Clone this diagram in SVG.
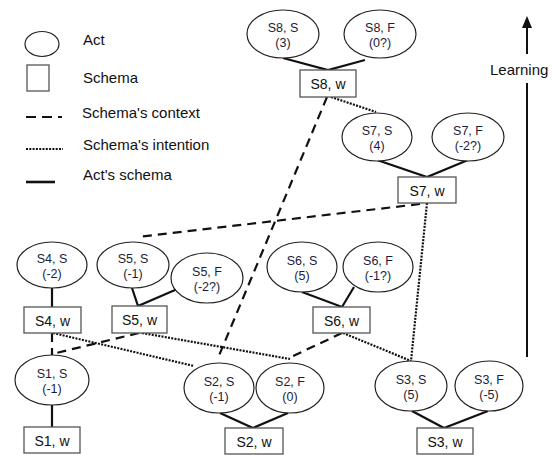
<svg xmlns="http://www.w3.org/2000/svg" width="554" height="455" viewBox="0 0 554 455">
<style>
.act{fill:#fff;stroke:#222;stroke-width:1.2}
.sch{fill:#fff;stroke:#555;stroke-width:1.3}
.al{font-family:"Liberation Sans",Arial,sans-serif;font-size:12.5px;fill:#1c1c3a;text-anchor:middle}
.sl{font-family:"Liberation Sans",Arial,sans-serif;font-size:14px;fill:#111;text-anchor:middle}
.lg{font-family:"Liberation Sans",Arial,sans-serif;font-size:15px;fill:#111}
.solid{stroke:#111;stroke-width:2.2;fill:none}
.ctx{stroke:#111;stroke-width:2.2;fill:none;stroke-dasharray:9 6}
.int{stroke:#111;stroke-width:2.2;fill:none;stroke-dasharray:2 1.3}
</style>
<rect width="554" height="455" fill="#fff"/>
<g id="legend">
<ellipse class="act" cx="42" cy="44" rx="17" ry="12.5"/>
<text class="lg" x="83" y="45">Act</text>
<rect class="sch" x="27" y="65" width="22" height="26"/>
<text class="lg" x="83" y="83">Schema</text>
<line class="ctx" x1="26" y1="117" x2="62" y2="117" style="stroke-dasharray:10 6"/>
<text class="lg" x="82" y="118">Schema's context</text>
<line class="int" x1="26" y1="149" x2="63" y2="149"/>
<text class="lg" x="83" y="150">Schema's intention</text>
<line class="solid" x1="26" y1="182" x2="55" y2="182" style="stroke-width:2.6"/>
<text class="lg" x="83" y="180">Act's schema</text>
</g>
<g id="learning">
<polygon points="527,16 522,28 532,28" fill="#111"/>
<line x1="527" y1="27" x2="527" y2="54" stroke="#111" stroke-width="2"/>
<text class="lg" x="490" y="75">Learning</text>
<line x1="527" y1="83" x2="527" y2="357" stroke="#111" stroke-width="2"/>
</g>
<g id="connectors">
<polyline class="solid" points="283,58 328,70 365,60"/>
<polyline class="solid" points="377,160 427,177 468,160"/>
<polyline class="solid" points="302,292 342,307 354,287"/>
<polyline class="solid" points="132,288 138,306 182,287"/>
<line class="solid" x1="52" y1="288" x2="52" y2="307"/>
<line class="solid" x1="52" y1="405" x2="52" y2="427"/>
<polyline class="solid" points="220,413 253,428 288,413"/>
<polyline class="solid" points="412,411 444,428 488,411"/>
<line class="ctx" x1="327" y1="97" x2="218" y2="358"/>
<line class="ctx" x1="420" y1="204" x2="138" y2="237"/>
<line class="ctx" x1="139" y1="333" x2="52" y2="354"/>
<line class="ctx" x1="52" y1="333" x2="52" y2="355"/>
<line class="ctx" x1="342" y1="333" x2="291" y2="357"/>
<line class="int" x1="331" y1="97" x2="376" y2="112"/>
<line class="int" x1="427" y1="203" x2="411" y2="361"/>
<line class="int" x1="53" y1="333" x2="194" y2="366"/>
<line class="int" x1="142" y1="333" x2="290" y2="359"/>
<line class="int" x1="343" y1="333" x2="411" y2="361"/>
</g>
<g id="S8S"><ellipse class="act" cx="283" cy="34" rx="36" ry="24"/><text class="al" x="283" y="32">S8, S</text><text class="al" x="283" y="47">(3)</text></g>
<g id="S8F"><ellipse class="act" cx="380" cy="34" rx="36" ry="24"/><text class="al" x="380" y="32">S8, F</text><text class="al" x="380" y="47">(0?)</text></g>
<g id="S8w"><rect class="sch" x="300" y="70" width="56" height="27"/><text class="sl" x="328" y="89">S8, w</text></g>
<g id="S7S"><ellipse class="act" cx="377" cy="137" rx="35" ry="24"/><text class="al" x="377" y="135">S7, S</text><text class="al" x="377" y="150">(4)</text></g>
<g id="S7F"><ellipse class="act" cx="468" cy="137" rx="36" ry="24"/><text class="al" x="468" y="135">S7, F</text><text class="al" x="468" y="150">(-2?)</text></g>
<g id="S7w"><rect class="sch" x="398" y="177" width="58" height="26"/><text class="sl" x="427" y="196">S7, w</text></g>
<g id="S4S"><ellipse class="act" cx="52" cy="265" rx="35" ry="23"/><text class="al" x="52" y="263">S4, S</text><text class="al" x="52" y="278">(-2)</text></g>
<g id="S4w"><rect class="sch" x="24" y="307" width="57" height="26"/><text class="sl" x="52.5" y="326">S4, w</text></g>
<g id="S5S"><ellipse class="act" cx="133" cy="265" rx="36" ry="23"/><text class="al" x="133" y="263">S5, S</text><text class="al" x="133" y="278">(-1)</text></g>
<g id="S5F"><ellipse class="act" cx="207" cy="278" rx="36" ry="25"/><text class="al" x="207" y="276">S5, F</text><text class="al" x="207" y="291">(-2?)</text></g>
<g id="S5w"><rect class="sch" x="112" y="306" width="55" height="27"/><text class="sl" x="139.5" y="325">S5, w</text></g>
<g id="S6S"><ellipse class="act" cx="302" cy="267" rx="35" ry="25"/><text class="al" x="302" y="265">S6, S</text><text class="al" x="302" y="280">(5)</text></g>
<g id="S6F"><ellipse class="act" cx="378" cy="267" rx="35" ry="25"/><text class="al" x="378" y="265">S6, F</text><text class="al" x="378" y="280">(-1?)</text></g>
<g id="S6w"><rect class="sch" x="313" y="307" width="57" height="26"/><text class="sl" x="341.5" y="326">S6, w</text></g>
<g id="S1S"><ellipse class="act" cx="52" cy="380" rx="37" ry="25"/><text class="al" x="52" y="378">S1, S</text><text class="al" x="52" y="393">(-1)</text></g>
<g id="S1w"><rect class="sch" x="24" y="427" width="56" height="26"/><text class="sl" x="52" y="446">S1, w</text></g>
<g id="S2S"><ellipse class="act" cx="219" cy="388" rx="35" ry="25"/><text class="al" x="219" y="386">S2, S</text><text class="al" x="219" y="401">(-1)</text></g>
<g id="S2F"><ellipse class="act" cx="290" cy="388" rx="34" ry="25"/><text class="al" x="290" y="386">S2, F</text><text class="al" x="290" y="401">(0)</text></g>
<g id="S2w"><rect class="sch" x="225" y="428" width="58" height="26"/><text class="sl" x="254" y="447">S2, w</text></g>
<g id="S3S"><ellipse class="act" cx="411" cy="386" rx="36" ry="25"/><text class="al" x="411" y="384">S3, S</text><text class="al" x="411" y="399">(5)</text></g>
<g id="S3F"><ellipse class="act" cx="489" cy="386" rx="34" ry="25"/><text class="al" x="489" y="384">S3, F</text><text class="al" x="489" y="399">(-5)</text></g>
<g id="S3w"><rect class="sch" x="417" y="428" width="56" height="26"/><text class="sl" x="445" y="447">S3, w</text></g>
</svg>
